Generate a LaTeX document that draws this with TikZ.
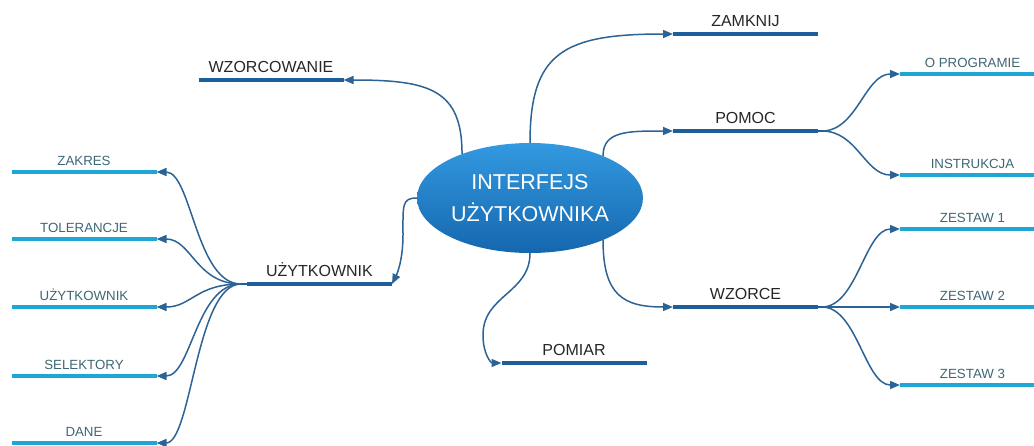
\documentclass[tikz,border=0pt]{standalone}
\usepackage{fontspec}
\setmainfont{Liberation Sans}
\usetikzlibrary{shapes.geometric,arrows.meta}
\definecolor{mainline}{HTML}{1D5E9C}
\definecolor{subline}{HTML}{1EA6D4}
\definecolor{connc}{HTML}{2B6395}
\definecolor{subtext}{HTML}{3E6675}
\definecolor{maintext}{HTML}{262626}
\definecolor{elltop}{HTML}{3399E0}
\definecolor{ellbot}{HTML}{1567AE}
\begin{document}
\begin{tikzpicture}[x=1pt,y=-1pt,
  topic/.style={inner xsep=0pt,inner ysep=0pt,outer sep=0pt,minimum width=145pt,anchor=south,text depth=7.5pt,font=\fontsize{16}{18}\selectfont,text=maintext},
  subtopic/.style={inner xsep=0pt,inner ysep=0pt,outer sep=0pt,minimum width=145pt,anchor=south,text depth=7pt,font=\fontsize{13.3}{15}\selectfont,text=subtext},
  mainbar/.style={draw=mainline,line width=4.5pt},
  subbar/.style={draw=subline,line width=4pt},
  connstyle/.style={draw=connc,line width=1.5pt,-{Triangle[length=10pt,width=8pt]}}]
\useasboundingbox (0,0) rectangle (1034,445);

% central node
\node[ellipse,minimum width=226pt,minimum height=110pt,inner sep=0pt,
      top color=elltop,bottom color=ellbot,text=white,align=center,
      font=\fontsize{21.5}{32}\selectfont] (center) at (530,198) {INTERFEJS\\UŻYTKOWNIKA};

% main topics
\node[topic] (wzorcowanie) at (271,80) {WZORCOWANIE};
\node[topic] (zamknij) at (745.5,34) {ZAMKNIJ};
\node[topic] (pomoc) at (745.5,131) {POMOC};
\node[topic] (wzorce) at (745.5,307) {WZORCE};
\node[topic] (pomiar) at (574,363) {POMIAR};
\node[topic] (uzytkownik) at (319.5,284) {UŻYTKOWNIK};

% sub topics left
\node[subtopic] (zakres) at (84,172) {ZAKRES};
\node[subtopic] (toler) at (84,239) {TOLERANCJE};
\node[subtopic] (uzyt2) at (84,307) {UŻYTKOWNIK};
\node[subtopic] (selekt) at (84,376) {SELEKTORY};
\node[subtopic] (dane) at (84,443) {DANE};

% sub topics right
\node[subtopic] (oprog) at (972.5,74) {O PROGRAMIE};
\node[subtopic] (instr) at (972.5,175) {INSTRUKCJA};
\node[subtopic] (zest1) at (972.5,229) {ZESTAW 1};
\node[subtopic] (zest2) at (972.5,307) {ZESTAW 2};
\node[subtopic] (zest3) at (972.5,385) {ZESTAW 3};

% bars
\foreach \n in {wzorcowanie,zamknij,pomoc,wzorce,pomiar,uzytkownik}
  \draw[mainbar] (\n.south west) -- (\n.south east);
\foreach \n in {zakres,toler,uzyt2,selekt,dane,oprog,instr,zest1,zest2,zest3}
  \draw[subbar] (\n.south west) -- (\n.south east);

% helper coordinates
\coordinate (pbend) at (483,335);
\coordinate (ubend) at (403,235);
\coordinate (ljunc) at (241,284);
\coordinate (pjunc) at (822,131);
\coordinate (wjunc) at (822,307);

% main connectors
\draw[connstyle] (center.147) .. controls +(0,-65) and +(85,0) .. (wzorcowanie.south east);
\draw[connstyle] (center.90) .. controls +(0,-90) and +(-110,0) .. (zamknij.south west);
\draw[connstyle] (center.30) .. controls +(0,-25) and +(-45,0) .. (pomoc.south west);
\draw[connstyle] (center.-30) .. controls +(0,55) and +(-50,0) .. (wzorce.south west);
\draw[connstyle] (center.270) .. controls +(0,40) and +(0,-40) .. (pbend)
   .. controls +(0,20) and +(-10,0) .. (pomiar.south west);
\draw[connstyle] (center.180) .. controls +(-15,0) and +(0,-30) .. (ubend)
   .. controls +(0,25) and +(5,-10) .. (uzytkownik.south east);

% sub connectors
\draw[mainline,line width=1.5pt] (ljunc) -- (uzytkownik.south west);
\foreach \n in {zakres,toler,uzyt2,selekt,dane}
  \draw[connstyle] (ljunc) .. controls +(-45,0) and +(35,0) .. (\n.south east);
\draw[mainline,line width=1.5pt] (pomoc.south east) -- (pjunc);
\foreach \n in {oprog,instr}
  \draw[connstyle] (pjunc) .. controls +(35,0) and +(-35,0) .. (\n.south west);
\draw[mainline,line width=1.5pt] (wzorce.south east) -- (wjunc);
\foreach \n in {zest1,zest2,zest3}
  \draw[connstyle] (wjunc) .. controls +(35,0) and +(-35,0) .. (\n.south west);
\end{tikzpicture}
\end{document}
